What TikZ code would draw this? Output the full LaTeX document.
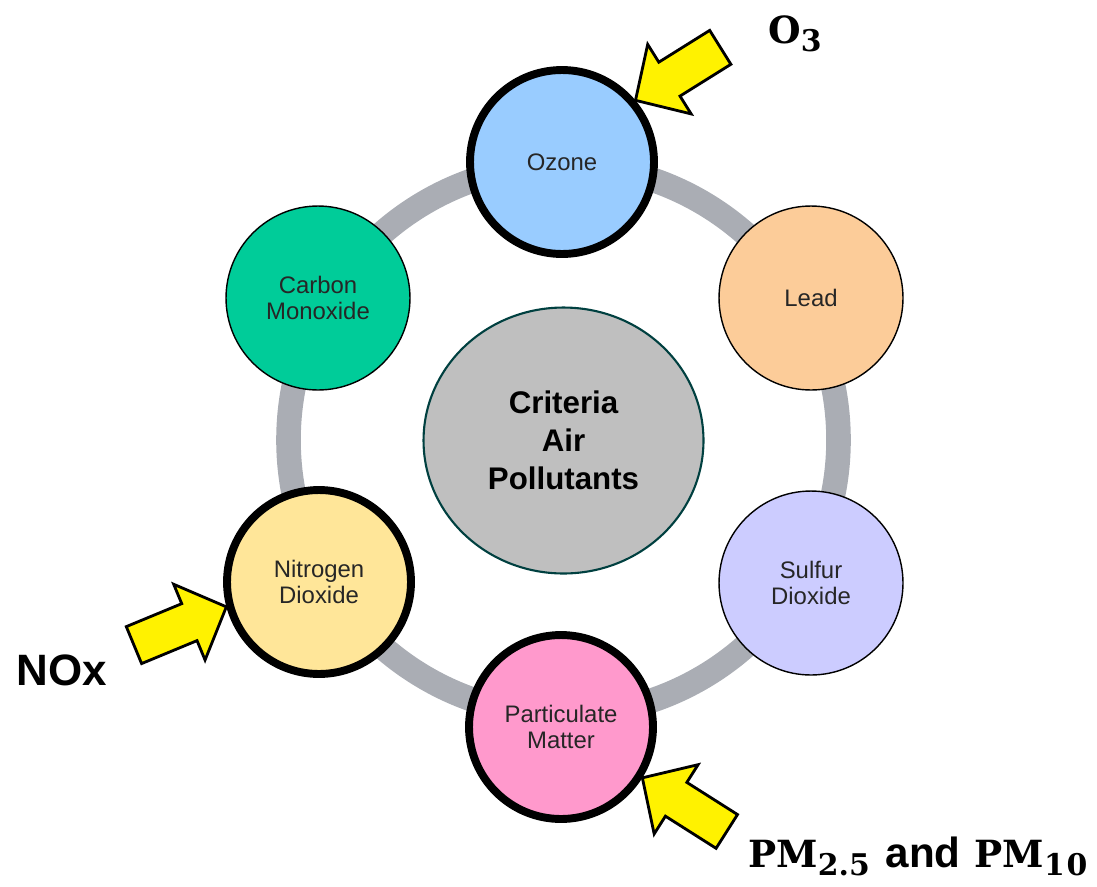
\documentclass[tikz,border=0pt]{standalone}
\usepackage{fontspec}
\setmainfont{Liberation Sans}
\newfontfamily\labelserif{DejaVu Serif}
\usepackage{tikz}
\usetikzlibrary{shapes.geometric}
\definecolor{ozoneblue}{RGB}{153,204,255}
\definecolor{leadpeach}{RGB}{252,204,153}
\definecolor{sulfurlav}{RGB}{204,204,255}
\definecolor{pmpink}{RGB}{255,153,204}
\definecolor{noyellow}{RGB}{255,230,153}
\definecolor{cogreen}{RGB}{0,204,153}
\definecolor{hubgray}{RGB}{191,191,191}
\definecolor{rimteal}{RGB}{0,64,64}
\definecolor{ringgray}{RGB}{170,173,180}
\newcommand{\lowsub}[1]{\raisebox{-5pt}{\fontsize{17}{17}\selectfont #1}}
\newcommand{\pointer}[2]{%
  \draw[pointer,shift={(#1)},rotate=#2] (0,0) -- (40,41) -- (40,20) -- (100,20)
    -- (100,-20) -- (40,-20) -- (40,-41) -- cycle;}

\begin{document}
\begin{tikzpicture}[x=0.02cm,y=-0.02cm,
  pollutant/.style={circle,draw=black,line width=0.8pt,minimum size=3.68cm,inner sep=0pt,
    align=center,text=black!85,font=\fontsize{13.6}{14.5}\selectfont},
  marked/.style={line width=4.5pt},
  hub/.style={ellipse,draw=rimteal,line width=1.2pt,fill=hubgray,minimum width=5.6cm,
    minimum height=5.32cm,align=center,font=\bfseries\fontsize{17.8}{21.8}\selectfont},
  pointer/.style={draw=black,line width=1.6pt,fill=yellow,line join=miter},
  ringline/.style={draw=ringgray,line width=14pt}]
  \useasboundingbox (0,0) rectangle (1097,886);
  % grey ring behind the circles
  \draw[ringline] (563.5,440) circle[radius=275];
  \node[hub] (hub) at (563.5,440.5) {Criteria\\Air\\Pollutants};
  % the six pollutants
  \node[pollutant,marked,fill=ozoneblue] (oz) at (562,162) {Ozone};
  \node[pollutant,fill=leadpeach] (pb) at (811,298) {Lead};
  \node[pollutant,fill=sulfurlav] (so2) at (811,583) {Sulfur\\Dioxide};
  \node[pollutant,marked,fill=pmpink] (pm) at (561,727) {Particulate\\Matter};
  \node[pollutant,marked,fill=noyellow] (no2) at (319,582) {Nitrogen\\Dioxide};
  \node[pollutant,fill=cogreen] (co) at (318,298) {Carbon\\Monoxide};
  % labels and yellow pointers
  \node[anchor=base west,inner sep=0pt,font=\fontsize{21.3}{22}\selectfont] (o3) at (768,43)
    {\labelserif\bfseries O\lowsub{3}};
  \node[inner sep=0pt,font=\bfseries\fontsize{25}{25}\selectfont] (nox) at (62,670) {NOx};
  \node[anchor=base west,inner sep=0pt,font=\fontsize{21.3}{22}\selectfont] (pmlabel) at (748,867)
    {{\labelserif\bfseries PM\lowsub{2.5}}\hspace{3pt} {\bfseries\fontsize{24}{24}\selectfont and}\hspace{2pt}
     {\labelserif\bfseries PM\lowsub{1\hspace{1pt}0}}};
  \coordinate (ozTip) at (oz.40);
  \coordinate (noTip) at (no2.195);
  \coordinate (pmTip) at (pm.328);
  \pointer{ozTip}{32}
  \pointer{noTip}{202.5}
  \pointer{pmTip}{-32.4}
\end{tikzpicture}
\end{document}
